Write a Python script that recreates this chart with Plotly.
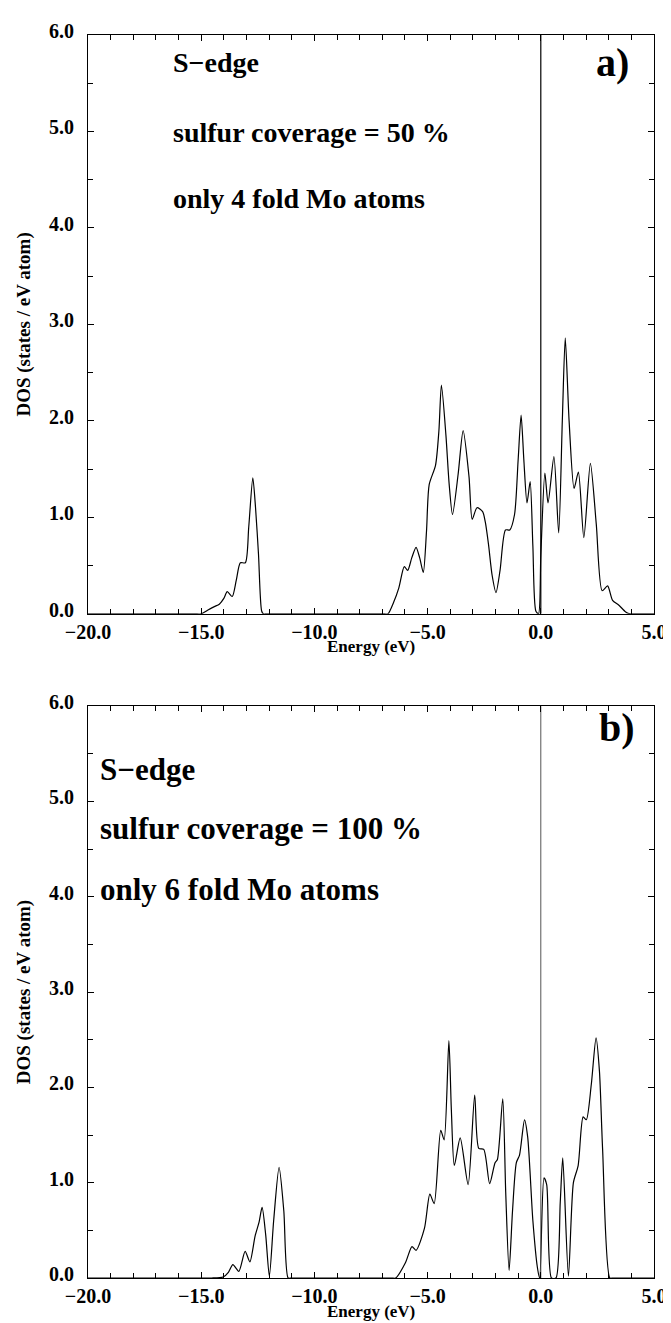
import plotly.graph_objects as go

# ---- data ----
energy_a = [-20.0, -15.3, -15.0, -14.7, -14.42, -14.2, -14.0, -13.85, -13.63, -13.45, -13.27, -13.05, -12.9,
            -12.72, -12.6, -12.47, -12.33, -12.25, -12.1, -6.9, -6.75, -6.5, -6.27, -6.03, -5.88, -5.7, -5.51,
            -5.35, -5.19, -5.05, -4.93, -4.65, -4.5, -4.39, -4.19, -4.05, -3.9, -3.65, -3.43,
            -3.17, -3.03, -2.82, -2.57, -2.45, -2.31, -2.15, -1.98, -1.8, -1.56, -1.37, -1.16,
            -1.0, -0.87, -0.75, -0.61, -0.47, -0.35, -0.22, -0.1, 0.0, 0.18, 0.32, 0.58, 0.79,
            0.95, 1.08, 1.25, 1.47, 1.66, 1.9, 2.19, 2.45, 2.71, 2.95, 3.17, 3.45, 3.75, 3.96, 4.2, 5.0]
dos_a = [0.0, 0.0, 0.0, 0.04, 0.075, 0.1, 0.16, 0.23, 0.18, 0.35, 0.53, 0.53, 0.9,
         1.41, 1.1, 0.62, 0.03, 0.0, 0.0, 0.0, 0.0, 0.12, 0.27, 0.49, 0.45, 0.58, 0.69,
         0.58, 0.43, 0.85, 1.34, 1.54, 1.9, 2.37, 1.85, 1.35, 1.03, 1.45, 1.9,
         1.42, 0.98, 1.1, 1.06, 0.95, 0.72, 0.4, 0.22, 0.45, 0.87, 0.87, 1.03,
         1.6, 2.06, 1.6, 1.15, 1.37, 0.7, 0.03, 0.0, 0.6, 1.46, 1.15, 1.63, 0.84,
         2.0, 2.86, 2.0, 1.3, 1.47, 0.79, 1.56, 0.93, 0.24, 0.29, 0.14, 0.09, 0.02, 0.0, 0.0, 0.0]

energy_b = [-20.0, -14.8, -14.54, -14.03, -13.8, -13.6, -13.34, -13.06, -12.85, -12.62, -12.45, -12.31,
            -12.15, -11.99, -11.8, -11.56, -11.35, -11.16, -11.0, -6.6, -6.41, -5.98, -5.69, -5.51, -5.14,
            -4.9, -4.71, -4.42, -4.27, -4.06, -3.95, -3.82, -3.56, -3.21, -2.92, -2.74, -2.52,
            -2.26, -2.02, -1.92, -1.68, -1.55, -1.4, -1.25, -1.08, -0.94, -0.72, -0.58, -0.35,
            -0.15, -0.05, 0.14, 0.26, 0.47, 0.67, 0.86, 0.97, 1.22, 1.44, 1.65, 1.87, 2.01,
            2.23, 2.44, 2.59, 2.73, 3.05, 3.2, 5.0]
dos_b = [0.0, 0.0, 0.0, 0.01, 0.06, 0.14, 0.07, 0.28, 0.17, 0.44, 0.58, 0.74,
         0.45, 0.02, 0.6, 1.16, 0.7, 0.0, 0.0, 0.0, 0.0, 0.16, 0.33, 0.29, 0.52,
         0.88, 0.78, 1.55, 1.45, 2.49, 1.76, 1.18, 1.47, 0.98, 1.92, 1.36, 1.35,
         0.99, 1.21, 1.24, 1.88, 0.9, 0.08, 0.7, 1.21, 1.29, 1.66, 1.48, 0.6,
         0.11, 0.0, 1.05, 0.98, 0.0, 0.0, 0.8, 1.26, 0.02, 1.0, 1.18, 1.69, 1.66,
         2.03, 2.52, 2.17, 1.35, 0.0, 0.0, 0.0]

fermi_level = 0.0
x_range = [-20.0, 5.0]
y_range = [0.0, 6.0]
x_tickvals = [-20.0, -15.0, -10.0, -5.0, 0.0, 5.0]
y_tickvals = [0.0, 1.0, 2.0, 3.0, 4.0, 5.0, 6.0]

labels_a = ["S\u2212edge", "sulfur coverage = 50 %", "only 4 fold Mo atoms"]
labels_b = ["S\u2212edge", "sulfur coverage = 100 %", "only 6 fold Mo atoms"]
panel_tags = ["a)", "b)"]

x_title = "Energy (eV)"
y_title = "DOS (states / eV atom)"

# ---- figure ----
FONT = "Liberation Serif"
fig = go.Figure()
curve_line = dict(color="black", width=1.2, shape="spline", smoothing=0.7)
fig.add_trace(go.Scatter(x=energy_a, y=dos_a, mode="lines", line=curve_line,
                         xaxis="x", yaxis="y", showlegend=False))
fig.add_trace(go.Scatter(x=energy_b, y=dos_b, mode="lines", line=curve_line,
                         xaxis="x2", yaxis="y2", showlegend=False))
# Fermi level lines
fig.add_trace(go.Scatter(x=[fermi_level, fermi_level], y=y_range, mode="lines",
                         line=dict(color="black", width=1.2), xaxis="x", yaxis="y", showlegend=False))
fig.add_trace(go.Scatter(x=[fermi_level, fermi_level], y=y_range, mode="lines",
                         line=dict(color="#555555", width=1), xaxis="x2", yaxis="y2", showlegend=False))

tickfont = dict(family=FONT, size=20, color="black", weight="bold")
titlefont = dict(family=FONT, size=17, color="black", weight="bold")

def xaxis_cfg(anchor):
    return dict(range=x_range, tickvals=x_tickvals, tickformat=".1f", ticks="inside", ticklen=6,
                tickcolor="black", showline=True, linecolor="black", linewidth=1, mirror="allticks",
                showgrid=False, zeroline=False, tickfont=tickfont, anchor=anchor, ticklabelstandoff=0,
                minor=dict(dtick=1, ticks="inside", ticklen=5, tickcolor="black", showgrid=False))

def yaxis_cfg(anchor, domain):
    return dict(range=y_range, tickvals=y_tickvals, tickformat=".1f", ticks="inside", ticklen=6,
                tickcolor="black", showline=True, linecolor="black", linewidth=1, mirror="allticks",
                showgrid=False, zeroline=False, tickfont=tickfont, anchor=anchor, domain=domain,
                ticklabelstandoff=9, ticklabelshift=-4,
                minor=dict(dtick=0.5, ticks="inside", ticklen=5, tickcolor="black", showgrid=False),
                title=dict(text=y_title, font=dict(family=FONT, size=19, color="black", weight="bold"),
                           standoff=13))

# plot area: top panel 16..600 px, bottom panel 693..1270 px (figure 1323 px tall)
top_dom = [0.5343, 1.0]
bot_dom = [0.0, 0.4601]
fig.update_layout(
    width=671, height=1323,
    margin=dict(l=80, r=14, t=16, b=53),
    paper_bgcolor="white", plot_bgcolor="white",
    xaxis=xaxis_cfg("y"),
    yaxis=yaxis_cfg("x", top_dom),
    xaxis2=xaxis_cfg("y2"),
    yaxis2=yaxis_cfg("x2", bot_dom),
)

afont_a = dict(family=FONT, size=28, color="black", weight="bold")
afont_b = dict(family=FONT, size=31, color="black", weight="bold")
tagfont = dict(family=FONT, size=40, color="black", weight="bold")
ann = []
for txt, yy in zip(labels_a, [0.952, 0.832, 0.717]):
    ann.append(dict(text=txt, x=0.147, y=yy, xref="x domain", yref="y domain", xanchor="left",
                    yanchor="middle", showarrow=False, font=afont_a))
ann.append(dict(text=panel_tags[0], x=0.926, y=0.952, xref="x domain", yref="y domain",
                xanchor="center", yanchor="middle", showarrow=False, font=tagfont))
for txt, yy in zip(labels_b, [0.890, 0.786, 0.680]):
    ann.append(dict(text=txt, x=0.017, y=yy, xref="x2 domain", yref="y2 domain", xanchor="left",
                    yanchor="middle", showarrow=False, font=afont_b))
ann.append(dict(text=panel_tags[1], x=0.934, y=0.962, xref="x2 domain", yref="y2 domain",
                xanchor="center", yanchor="middle", showarrow=False, font=tagfont))
# x-axis titles, just under the tick labels
for xr, yr in [("x domain", "y domain"), ("x2 domain", "y2 domain")]:
    ann.append(dict(text=x_title, x=0.5, y=0.0, xref=xr, yref=yr, xanchor="center",
                    yanchor="middle", yshift=-33, showarrow=False, font=titlefont))
fig.update_layout(annotations=ann)

fig.write_html("out.html")
